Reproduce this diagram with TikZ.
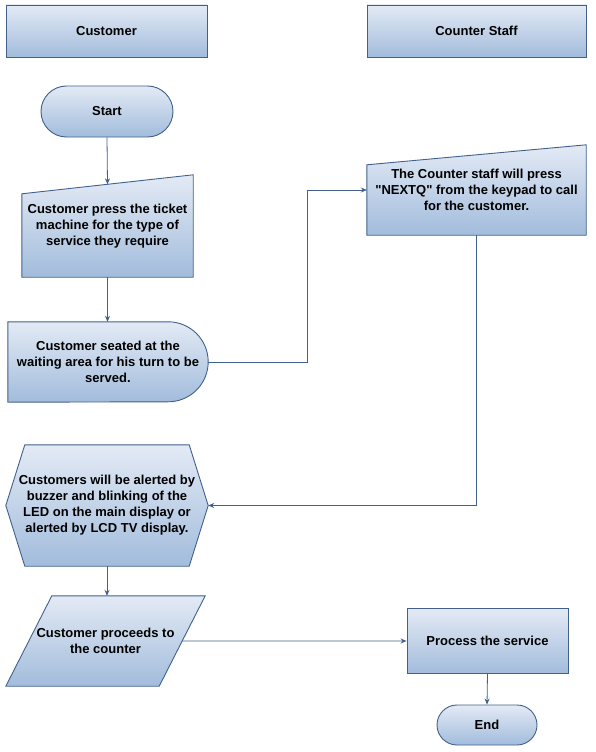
\documentclass[tikz,border=0pt]{standalone}
\usepackage{fontspec}
\setmainfont{Liberation Sans}
\usetikzlibrary{arrows.meta, shapes.misc, backgrounds, calc}

\definecolor{boxtop}{HTML}{E3EAF5}
\definecolor{boxbot}{HTML}{A2BCDC}
\definecolor{boxline}{HTML}{41618C}

\tikzset{
  shaded box/.style={draw=boxline, line width=0.9pt, top color=boxtop, bottom color=boxbot},
  txt/.style={font=\bfseries\fontsize{13}{16}\selectfont, align=center, inner sep=0pt},
  arr/.style={draw=boxline, line width=0.8pt, -{Stealth[length=6pt,width=5pt]}}
}

\begin{document}
\begin{tikzpicture}[x=1pt, y=-1pt]
    \useasboundingbox (0,0) rectangle (595,752);

    % Cabeceras
    \node[txt, shaded box, minimum width=201pt, minimum height=52pt] (cust) at (106.5,31) {Customer};
    \node[txt, shaded box, minimum width=219pt, minimum height=52pt] (staff) at (476.5,31) {Counter Staff};

    % Inicio y fin
    \node[txt, shaded box, rounded rectangle, minimum width=132pt, minimum height=51pt] (start) at (107,111.5) {Start};
    \node[txt, shaded box, rounded rectangle, minimum width=100pt, minimum height=40pt] (finish) at (487,725) {End};

    % Pasos
    \node[txt, minimum width=171pt, minimum height=102pt] (press) at (107.5,226)
        {Customer press the ticket\\machine for the type of\\service they require};
    \node[txt, minimum width=200pt, minimum height=80pt] (seated) at (108,362)
        {Customer seated at the\\waiting area for his turn to be\\served.};
    \node[txt, minimum width=219pt, minimum height=90pt] (nextq) at (476.5,190)
        {The Counter staff will press\\\textquotedbl NEXTQ\textquotedbl{} from the keypad to call\\for the customer.};
    \node[txt, minimum width=202pt, minimum height=121pt] (alert) at (107,505.5)
        {Customers will be alerted by\\buzzer and blinking of the\\LED on the main display or\\alerted by LCD TV display.};
    \node[txt, minimum width=199pt, minimum height=90pt] (proceed) at (105.5,641)
        {Customer proceeds to\\the counter};
    \node[txt, shaded box, minimum width=161pt, minimum height=65pt] (service) at (487.5,641) {Process the service};

    % Formas de fondo
    \begin{scope}[on background layer]
        \shadedraw[shaded box] (press.south west) -- (press.south east) -- (press.north east)
            -- ([yshift=-19pt]press.north west) -- cycle;
        \shadedraw[shaded box] (nextq.south west) -- (nextq.south east) -- (nextq.north east)
            -- ([yshift=-20pt]nextq.north west) -- cycle;
        \shadedraw[shaded box] (seated.north west) -- ([xshift=-40pt]seated.north east)
            arc[start angle=90, end angle=-90, radius=40pt] -- (seated.south west) -- cycle;
        \shadedraw[shaded box] (alert.west) -- ([xshift=19pt]alert.north west)
            -- ([xshift=-19pt]alert.north east) -- (alert.east)
            -- ([xshift=-19pt]alert.south east) -- ([xshift=19pt]alert.south west) -- cycle;
        \shadedraw[shaded box] (proceed.south west) -- ([xshift=-46pt]proceed.south east)
            -- (proceed.north east) -- ([xshift=46pt]proceed.north west) -- cycle;
    \end{scope}

    \coordinate (press-top) at ($([yshift=-19pt]press.north west)!0.5!(press.north east)$);
    \coordinate (proceed-right) at ($([xshift=-46pt]proceed.south east)!0.5!(proceed.north east)$);

    % Conectores
    \draw[arr] (start.south) -- (press-top);
    \draw[arr] (press.south) -- (press.south |- seated.north);
    \draw[arr] (seated.east) -- ++(99,0) |- (nextq.west);
    \draw[arr] (nextq.south) |- (alert.east);
    \draw[arr] (alert.south) -- (alert.south |- proceed.north);
    \draw[arr] (proceed-right) -- (service.west);
    \draw[arr] (service.south) -- (finish.north);
\end{tikzpicture}
\end{document}
